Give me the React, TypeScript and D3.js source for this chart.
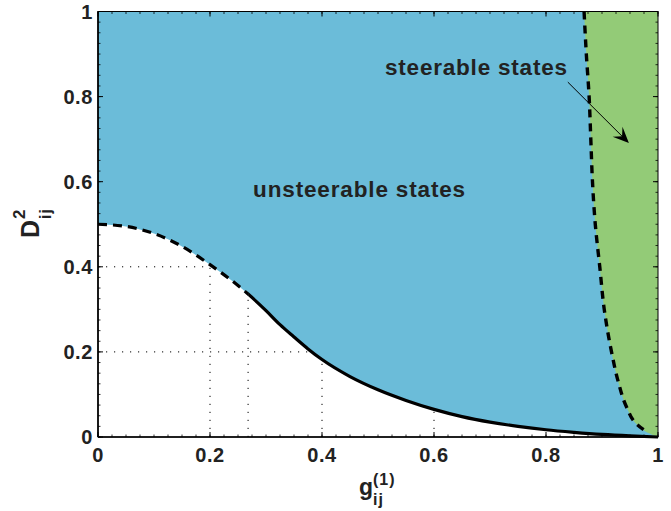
import * as d3 from "d3";

// boundary of the unsteerable region (lower curve)
const lowerG = [0, 0.05, 0.1, 0.15, 0.2, 0.25, 0.268, 0.3, 0.325, 0.35, 0.375, 0.4, 0.45, 0.5, 0.55, 0.6, 0.65, 0.7, 0.75, 0.8, 0.85, 0.9, 0.95, 1];
const lowerD = [0.5, 0.495, 0.478, 0.448, 0.405, 0.356, 0.336, 0.297, 0.264, 0.235, 0.207, 0.182, 0.142, 0.111, 0.086, 0.065, 0.048, 0.035, 0.025, 0.017, 0.011, 0.006, 0.0025, 0];
const dashedUntil = 0.268;

// boundary of the steerable region (right curve)
const rightD = [1, 0.9, 0.8, 0.7, 0.6, 0.5, 0.4, 0.3, 0.2, 0.13, 0.07, 0.03, 0.01, 0];
const rightG = [0.868, 0.872, 0.877, 0.88, 0.883, 0.888, 0.896, 0.904, 0.917, 0.929, 0.944, 0.962, 0.982, 1];

// dotted guide lines
const guideVG = [0.2, 0.268, 0.4, 0.6, 0.8];
const guideVTop = [0.405, 0.336, 0.182, 0.065, 0.017];
const guideHD = [0.4, 0.2];
const guideHEnd = [0.2, 0.38];

const ticks = [0, 0.2, 0.4, 0.6, 0.8, 1];
const tickLabels = ["0", "0.2", "0.4", "0.6", "0.8", "1"];
const minorStep = 0.025;

// annotations (data units)
const unsteerLabel = { g: 0.277, d: 0.564, text: "unsteerable states" };
const steerLabel = { g: 0.5125, d: 0.851, text: "steerable states" };
const arrowFrom = { g: 0.839, d: 0.834 };
const arrowTo = { g: 0.948, d: 0.691 };

const W = 671;
const H = 511;
const FONT = "'Liberation Sans', Arial, Helvetica, sans-serif";
const INK = "#222";
const BLUE = "#6bbcd9";
const GREEN = "#93cb77";

export default function App() {
  const x = d3.scaleLinear().domain([0, 1]).range([98, 658]);
  const y = d3.scaleLinear().domain([0, 1]).range([437, 11.5]);

  const lower = lowerG.map((g, i) => [g, lowerD[i]] as [number, number]);
  const right = rightG.map((g, i) => [g, rightD[i]] as [number, number]);

  const lowerLine = d3
    .line<[number, number]>()
    .x((d) => x(d[0]))
    .y((d) => y(d[1]))
    .curve(d3.curveMonotoneX);
  const whiteArea = d3
    .area<[number, number]>()
    .x((d) => x(d[0]))
    .y0(y(0))
    .y1((d) => y(d[1]))
    .curve(d3.curveMonotoneX);
  const rightLine = d3
    .line<[number, number]>()
    .x((d) => x(d[0]))
    .y((d) => y(d[1]))
    .curve(d3.curveMonotoneY);
  const greenArea = d3
    .area<[number, number]>()
    .y((d) => y(d[1]))
    .x0((d) => x(d[0]))
    .x1(x(1))
    .curve(d3.curveMonotoneY);

  const minors = d3.range(0, 1 + 1e-9, minorStep);
  const [x0, x1] = x.range();
  const [y0, y1] = y.range();

  // arrow head
  const ax = x(arrowTo.g);
  const ay = y(arrowTo.d);
  const ang = Math.atan2(ay - y(arrowFrom.d), ax - x(arrowFrom.g));
  const headLen = 16;
  const headW = 7;
  const pt = (l: number, w: number) => [
    ax - l * Math.cos(ang) - w * Math.sin(ang),
    ay - l * Math.sin(ang) + w * Math.cos(ang),
  ];
  const head = [pt(0, 0), pt(headLen, headW), pt(headLen * 0.6, 0), pt(headLen, -headW)];

  return (
    <svg
      width={W}
      height={H}
      style={{ position: "absolute", left: 0, top: 0, background: "#fff" }}
      fontFamily={FONT}
    >
      <defs>
        <clipPath id="plot">
          <rect x={x0} y={y1} width={x1 - x0} height={y0 - y1} />
        </clipPath>
        <clipPath id="dashPart">
          <rect x={x0} y={y1} width={x(dashedUntil) - x0} height={y0 - y1} />
        </clipPath>
        <clipPath id="solidPart">
          <rect x={x(dashedUntil)} y={y1} width={x1 - x(dashedUntil)} height={y0 - y1 + 4} />
        </clipPath>
      </defs>

      <g clipPath="url(#plot)">
        <rect x={x0} y={y1} width={x1 - x0} height={y0 - y1} fill={BLUE} />
        <path d={whiteArea(lower) || ""} fill="#fff" />
        <path d={greenArea(right) || ""} fill={GREEN} />
      </g>

      {/* dotted guides */}
      {guideVG.map((g, i) => (
        <line
          key={"v" + i}
          x1={x(g)}
          x2={x(g)}
          y1={y(0)}
          y2={y(guideVTop[i])}
          stroke="#000"
          strokeWidth={1}
          strokeDasharray="1.2,6.8"
        />
      ))}
      {guideHD.map((d, i) => (
        <line
          key={"h" + i}
          x1={x(0)}
          x2={x(guideHEnd[i])}
          y1={y(d)}
          y2={y(d)}
          stroke="#000"
          strokeWidth={1}
          strokeDasharray="1.2,6.8"
        />
      ))}

      {/* boundary curves */}
      <path
        d={lowerLine(lower) || ""}
        fill="none"
        stroke="#000"
        strokeWidth={3.2}
        strokeDasharray="9,6"
        clipPath="url(#dashPart)"
      />
      <path
        d={lowerLine(lower) || ""}
        fill="none"
        stroke="#000"
        strokeWidth={3.2}
        clipPath="url(#solidPart)"
      />
      <path
        d={rightLine(right.slice(0, -1)) || ""}
        fill="none"
        stroke="#000"
        strokeWidth={3.4}
        strokeDasharray="8,6"
      />

      {/* box and ticks */}
      <rect x={x0} y={y1} width={x1 - x0} height={y0 - y1} fill="none" stroke="#000" strokeWidth={1} />
      <line x1={x0} x2={x0} y1={y1} y2={y0} stroke="#000" strokeWidth={1.6} />
      <line x1={x0} x2={x1} y1={y0} y2={y0} stroke="#000" strokeWidth={1.6} />
      {minors.map((v, i) => (
        <g key={"m" + i} stroke="#000" strokeWidth={0.8}>
          <line x1={x(v)} x2={x(v)} y1={y0} y2={y0 - 2.5} />
          <line x1={x(v)} x2={x(v)} y1={y1} y2={y1 + 2.5} />
          <line x1={x0} x2={x0 + 2.5} y1={y(v)} y2={y(v)} />
          <line x1={x1} x2={x1 - 2.5} y1={y(v)} y2={y(v)} />
        </g>
      ))}
      {ticks.map((v, i) => (
        <g key={"t" + i} stroke="#000" strokeWidth={1}>
          <line x1={x(v)} x2={x(v)} y1={y0} y2={y0 - 5} />
          <line x1={x(v)} x2={x(v)} y1={y1} y2={y1 + 5} />
          <line x1={x0} x2={x0 + 5} y1={y(v)} y2={y(v)} />
          <line x1={x1} x2={x1 - 5} y1={y(v)} y2={y(v)} />
        </g>
      ))}

      {/* tick labels */}
      {ticks.map((v, i) => (
        <text
          key={"xl" + i}
          x={x(v)}
          y={462}
          textAnchor="middle"
          fontSize={20}
          fontWeight="bold"
          letterSpacing={0.6}
          fill={INK}
        >
          {tickLabels[i]}
        </text>
      ))}
      {ticks.map((v, i) => (
        <text
          key={"yl" + i}
          x={93}
          y={y(v) + 7}
          textAnchor="end"
          fontSize={20}
          fontWeight="bold"
          letterSpacing={0.6}
          fill={INK}
        >
          {tickLabels[i]}
        </text>
      ))}

      {/* axis labels */}
      <g fill={INK} fontWeight="bold">
        <text x={359} y={495} fontSize={23}>g</text>
        <text x={373} y={485} fontSize={16} letterSpacing={1}>(1)</text>
        <text x={373} y={505} fontSize={16} letterSpacing={1}>ij</text>
      </g>
      <g fill={INK} fontWeight="bold" transform="translate(39,238) rotate(-90)">
        <text x={0} y={0} fontSize={25}>D</text>
        <text x={19} y={-14} fontSize={17}>2</text>
        <text x={19} y={12} fontSize={16} letterSpacing={1}>ij</text>
      </g>

      {/* annotations */}
      <text
        x={x(unsteerLabel.g)}
        y={y(unsteerLabel.d)}
        fontSize={22.5}
        fontWeight="bold"
        fill={INK}
        textLength={212}
        lengthAdjust="spacing"
      >
        {unsteerLabel.text}
      </text>
      <text
        x={x(steerLabel.g)}
        y={y(steerLabel.d)}
        fontSize={22.5}
        fontWeight="bold"
        fill={INK}
        textLength={182}
        lengthAdjust="spacing"
      >
        {steerLabel.text}
      </text>
      <line
        x1={x(arrowFrom.g)}
        y1={y(arrowFrom.d)}
        x2={ax - 8 * Math.cos(ang)}
        y2={ay - 8 * Math.sin(ang)}
        stroke="#000"
        strokeWidth={1}
      />
      <path d={"M" + head.map((p) => p.join(",")).join("L") + "Z"} fill="#000" />
    </svg>
  );
}
